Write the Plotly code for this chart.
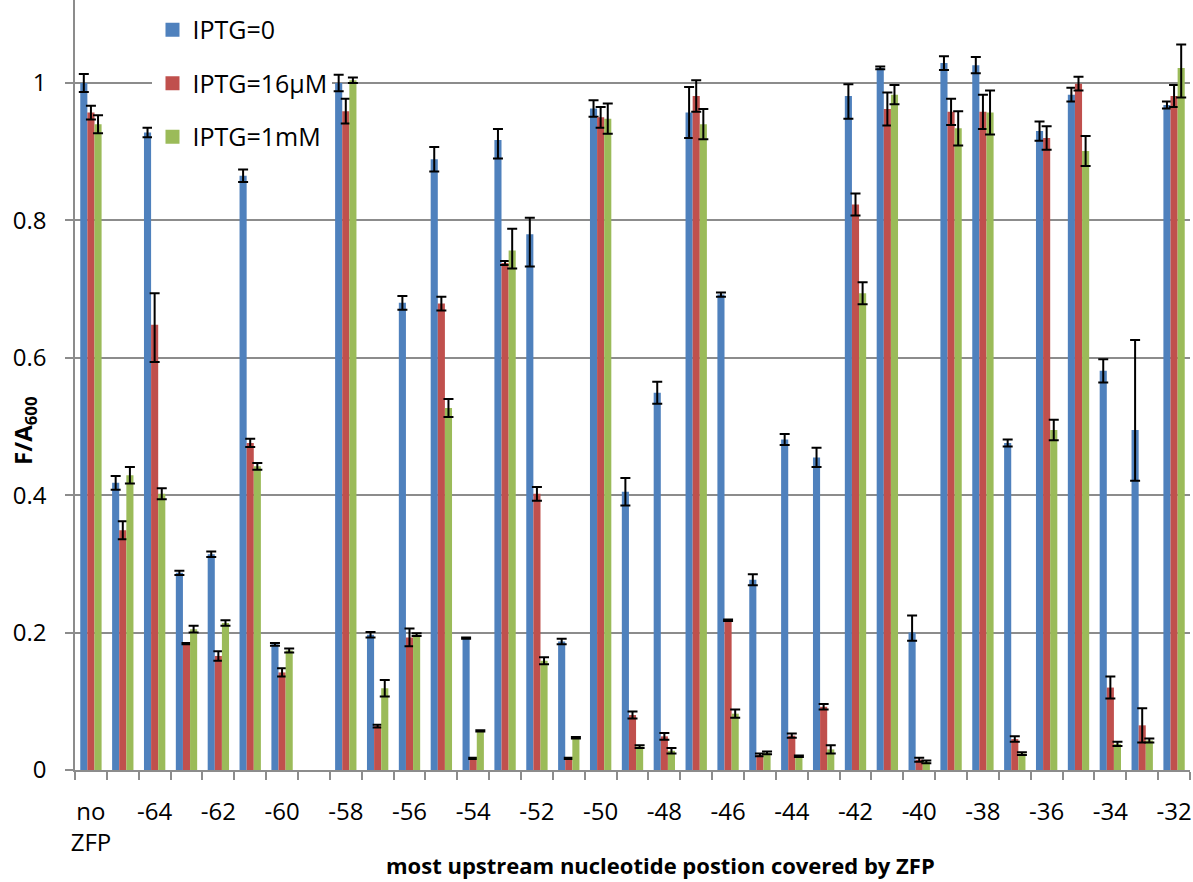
import plotly.graph_objects as go

# Promoter positions (most upstream nucleotide covered by the ZFP)
categories = ["no ZFP"] + [str(p) for p in range(-65, -31)]
tick_labels = ["no<br>ZFP"] + [str(p) if p % 2 == 0 else "" for p in range(-65, -31)]

# F/A600 for each IPTG level (None = not measured)
iptg_0 = [1.000, 0.418, 0.928, 0.287, 0.314, 0.865, 0.183, None,
          1.000, 0.197, 0.680, 0.889, 0.192, 0.917, 0.780, 0.187,
          0.963, 0.405, 0.549, 0.957, 0.692, 0.277, 0.481, 0.455,
          0.981, 1.022, 0.200, 1.029, 1.026, 0.476, 0.930, 0.983,
          0.581, 0.495, 0.968]
iptg_16uM = [0.957, 0.349, 0.648, 0.184, 0.166, 0.476, 0.142, None,
             0.959, 0.064, 0.193, 0.679, 0.017, 0.738, 0.402, 0.017,
             0.950, 0.080, 0.049, 0.981, 0.218, 0.022, 0.050, 0.092,
             0.823, 0.962, 0.015, 0.958, 0.958, 0.045, 0.920, 0.999,
             0.120, 0.065, 0.981]
iptg_1mM = [0.940, 0.429, 0.402, 0.205, 0.214, 0.442, 0.174, None,
            1.004, 0.119, 0.197, 0.527, 0.057, 0.756, 0.159, 0.047,
            0.948, 0.034, 0.028, 0.940, 0.082, 0.025, 0.020, 0.030,
            0.694, 0.983, 0.012, 0.934, 0.957, 0.024, 0.495, 0.901,
            0.038, 0.043, 1.022]

# Error bars: upper and lower extents
err_0_up = [0.013, 0.010, 0.007, 0.003, 0.004, 0.009, 0.002, None,
            0.012, 0.004, 0.010, 0.018, 0.001, 0.016, 0.024, 0.004,
            0.012, 0.020, 0.016, 0.037, 0.003, 0.008, 0.008, 0.014,
            0.017, 0.002, 0.025, 0.010, 0.012, 0.005, 0.014, 0.010,
            0.017, 0.131, 0.005]
err_0_down = [0.013, 0.010, 0.007, 0.003, 0.004, 0.009, 0.002, None,
              0.012, 0.004, 0.010, 0.018, 0.001, 0.027, 0.047, 0.004,
              0.012, 0.020, 0.016, 0.037, 0.003, 0.008, 0.008, 0.014,
              0.033, 0.002, 0.012, 0.010, 0.012, 0.005, 0.014, 0.010,
              0.017, 0.074, 0.005]
err_16uM_up = [0.010, 0.013, 0.046, 0.001, 0.007, 0.006, 0.006, None,
               0.018, 0.002, 0.013, 0.010, 0.001, 0.003, 0.010, 0.001,
               0.015, 0.005, 0.005, 0.023, 0.001, 0.002, 0.003, 0.004,
               0.016, 0.024, 0.003, 0.019, 0.025, 0.004, 0.017, 0.010,
               0.016, 0.025, 0.016]
err_16uM_down = [0.010, 0.013, 0.054, 0.001, 0.007, 0.006, 0.006, None,
                 0.018, 0.002, 0.013, 0.010, 0.001, 0.003, 0.010, 0.001,
                 0.015, 0.005, 0.005, 0.023, 0.001, 0.002, 0.003, 0.004,
                 0.016, 0.024, 0.003, 0.019, 0.025, 0.004, 0.017, 0.010,
                 0.016, 0.025, 0.016]
err_1mM_up = [0.013, 0.012, 0.008, 0.005, 0.004, 0.005, 0.003, None,
              0.004, 0.012, 0.002, 0.013, 0.001, 0.032, 0.005, 0.001,
              0.022, 0.002, 0.004, 0.022, 0.006, 0.002, 0.001, 0.006,
              0.016, 0.014, 0.002, 0.025, 0.032, 0.002, 0.015, 0.022,
              0.003, 0.003, 0.034]
err_1mM_down = [0.013, 0.012, 0.008, 0.005, 0.004, 0.005, 0.003, None,
                0.004, 0.012, 0.002, 0.013, 0.001, 0.026, 0.005, 0.001,
                0.022, 0.002, 0.004, 0.022, 0.006, 0.002, 0.001, 0.006,
                0.016, 0.014, 0.002, 0.025, 0.032, 0.002, 0.015, 0.022,
                0.003, 0.003, 0.043]

series = [
    ("IPTG=0", iptg_0, err_0_up, err_0_down, "#4F81BD"),
    ("IPTG=16μM", iptg_16uM, err_16uM_up, err_16uM_down, "#C0504D"),
    ("IPTG=1mM", iptg_1mM, err_1mM_up, err_1mM_down, "#9BBB59"),
]

FONT = "'Open Sans', 'Noto Sans', sans-serif"
GRID = "#8C8C8C"

fig = go.Figure()
for name, vals, up, down, color in series:
    fig.add_trace(go.Bar(
        x=categories, y=vals, name=name, legendgroup=name, showlegend=False,
        marker=dict(color=color, line=dict(width=0)),
        error_y=dict(type="data", symmetric=False, array=up, arrayminus=down,
                     visible=True, color="black", thickness=2, width=5),
    ))
    # square swatch for the legend
    fig.add_trace(go.Scatter(
        x=[None], y=[None], mode="markers", name=name, legendgroup=name,
        marker=dict(symbol="square", size=14, color=color),
    ))

fig.update_layout(
    width=1193, height=882,
    margin=dict(l=75, r=3, t=0, b=112),
    paper_bgcolor="white", plot_bgcolor="white",
    font=dict(family=FONT, size=24, color="black"),
    barmode="group", bargap=0.33, bargroupgap=0,
    showlegend=True,
    legend=dict(x=0.0695, y=0.991, xanchor="left", yanchor="top",
                bgcolor="white", tracegroupgap=18, itemwidth=30,
                font=dict(family=FONT, size=25, color="black")),
    xaxis=dict(type="category", categoryorder="array", categoryarray=categories,
               tickmode="array", tickvals=categories, ticktext=tick_labels,
               tickangle=0,
               tickson="boundaries", ticks="outside", ticklen=8, tickwidth=1.5,
               tickcolor=GRID, showline=True, linecolor=GRID, linewidth=1.5,
               showgrid=False, ticklabelstandoff=19,
               tickfont=dict(family=FONT, size=24, color="black")),
    yaxis=dict(range=[0, 1.1208], tickmode="linear", tick0=0, dtick=0.2,
               ticks="outside", ticklen=8, tickwidth=1.5, tickcolor=GRID,
               showline=True, linecolor=GRID, linewidth=1.5,
               showgrid=True, gridcolor=GRID, gridwidth=1.5, zeroline=False,
               ticklabelstandoff=14,
               tickfont=dict(family=FONT, size=24, color="black")),
)

# Axis titles
fig.add_annotation(text="<b>most upstream nucleotide postion covered by ZFP</b>",
                   xref="paper", yref="paper", x=0.525, y=-0.124,
                   xanchor="center", yanchor="middle", showarrow=False,
                   font=dict(family=FONT, size=22, color="black"))
fig.add_annotation(text="<b>F/A<sub>600</sub></b>",
                   xref="paper", yref="paper", x=-0.046, y=0.44,
                   xanchor="center", yanchor="middle", textangle=-90,
                   showarrow=False,
                   font=dict(family=FONT, size=24, color="black"))

fig.write_html("out.html")
